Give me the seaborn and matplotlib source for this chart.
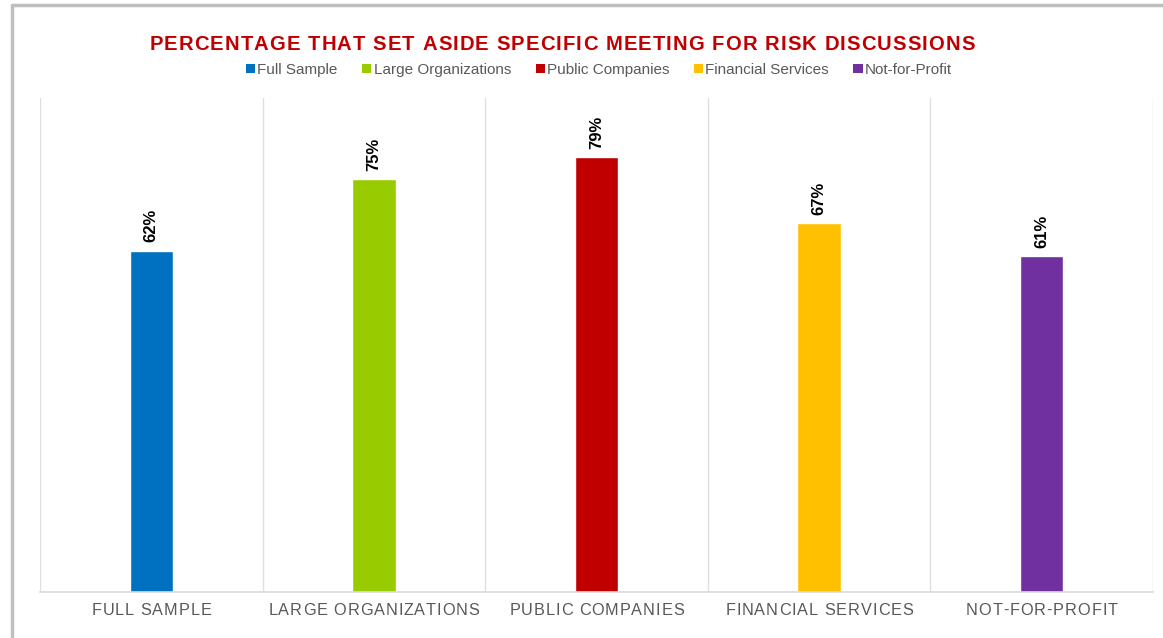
import matplotlib
matplotlib.use("Agg")
import matplotlib.pyplot as plt
import matplotlib.lines as mlines
from matplotlib.patches import Patch
from matplotlib.font_manager import FontProperties
from matplotlib.transforms import offset_copy
import pandas as pd
import seaborn as sn

categories = ["Full Sample", "Large Organizations", "Public Companies",
              "Financial Services", "Not-for-Profit"]
values = [62, 75, 79, 67, 61]
colors = ["#0070C0", "#99CC00", "#C00000", "#FFC000", "#7030A0"]
title = "PERCENTAGE THAT SET ASIDE SPECIFIC MEETING FOR RISK DISCUSSIONS"

df = pd.DataFrame({"Group": categories, "Pct": values})

sn.set_theme(style="white")
plt.rcParams["font.family"] = ["Liberation Sans", "DejaVu Sans"]

fig = plt.figure(figsize=(11.63, 6.38), dpi=100)
ax = fig.add_axes([40 / 1163, 46 / 638, 1113 / 1163, 494 / 638])
renderer = fig.canvas.get_renderer()


def spaced_text(x, y, s, spacing, transform, size, weight="normal", color="black"):
    # draw text char by char with extra letter spacing (pixels), centred on x
    fp = FontProperties(family="Liberation Sans", size=size, weight=weight)
    widths = []
    for ch in s:
        w, _, _ = renderer.get_text_width_height_descent(ch, fp, ismath=False)
        widths.append(w)
    total = sum(widths) + spacing * (len(s) - 1)
    pos = -total / 2
    for ch, w in zip(s, widths):
        tr = offset_copy(transform, fig=fig, x=pos * 72 / fig.dpi, y=0, units="points")
        fig.text(x, y, ch, transform=tr, fontproperties=fp, color=color,
                 ha="left", va="center")
        pos += w + spacing


sn.barplot(data=df, x="Group", y="Pct", hue="Group", palette=colors,
           width=0.195, legend=False, ax=ax, saturation=1)

ax.set_ylim(0, 89.7)
ax.set_xlim(-0.5, len(categories) - 0.5)
ax.set_yticks([])
ax.set_xlabel("")
ax.set_ylabel("")
ax.set_xticks(range(len(categories)))
ax.set_xticklabels([])
ax.tick_params(axis="x", length=0)

# vertical separators between categories
ax.set_xticks([i - 0.5 for i in range(len(categories) + 1)], minor=True)
ax.tick_params(axis="x", which="minor", length=0)
ax.grid(axis="x", which="minor", color="#e0e0e0", linewidth=1)
ax.grid(axis="x", which="major", visible=False)
for s in ["top", "left", "right"]:
    ax.spines[s].set_visible(False)
ax.spines["bottom"].set_color("#d9d9d9")
ax.spines["bottom"].set_linewidth(1.2)

# category labels, upper case with letter spacing
xlab_tr = ax.get_xaxis_transform()
for i, c in enumerate(categories):
    spaced_text(i, -0.037, c.upper(), 0.9, xlab_tr, 11.7, color="#595959")

for i, v in enumerate(values):
    ax.annotate(f"{v}%", (i, v), xytext=(0, 6), textcoords="offset points",
                rotation=90, ha="center", va="bottom", fontsize=12,
                fontweight="bold", color="black")

spaced_text(562 / 1163, 1 - 45 / 638, title, 1.1, fig.transFigure, 14.6,
            weight="bold", color="#C00000")

handles = [Patch(facecolor=c, edgecolor="none", label=l)
           for c, l in zip(colors, categories)]
fig.legend(handles=handles, loc="center", bbox_to_anchor=(599 / 1163, 1 - 70 / 638),
           ncol=5, frameon=False, fontsize=11, handlelength=0.6,
           handleheight=0.6, handletextpad=0.15, columnspacing=1.6,
           labelcolor="#595959")

# outer frame (left and top edges visible)
fig.add_artist(mlines.Line2D([12 / 1163, 12 / 1163], [0, 1 - 5 / 638],
                             transform=fig.transFigure, color="#bfbfbf", lw=2.5))
fig.add_artist(mlines.Line2D([12 / 1163, 1], [1 - 5 / 638, 1 - 5 / 638],
                             transform=fig.transFigure, color="#bfbfbf", lw=2.5))

plt.savefig("out.png", dpi=100)
